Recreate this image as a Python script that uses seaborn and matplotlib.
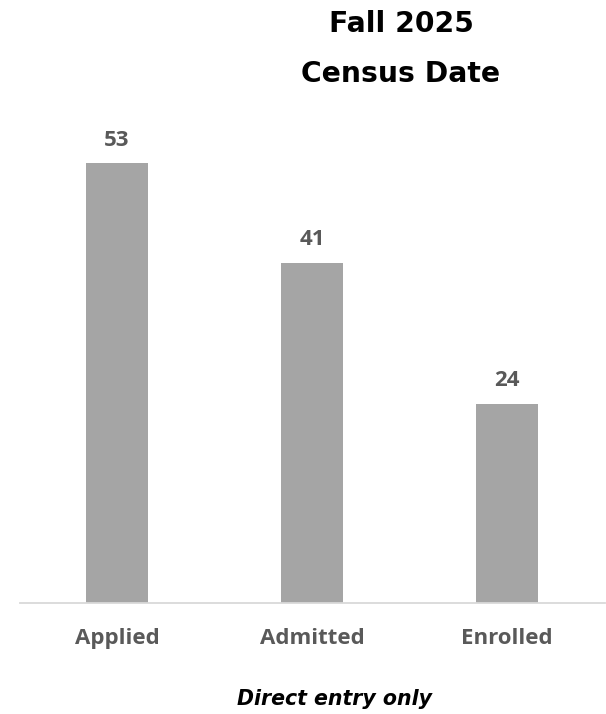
import matplotlib
matplotlib.use("Agg")
import matplotlib.pyplot as plt
import seaborn as sns
import pandas as pd

categories = ["Applied", "Admitted", "Enrolled"]
values = [53, 41, 24]
title_lines = ["Fall 2025", "Census Date"]
subtitle = "Direct entry only"

df = pd.DataFrame({"stage": categories, "count": values})

sns.set_theme(style="white")
plt.rcParams["font.family"] = ["Open Sans", "DejaVu Sans"]

fig = plt.figure(figsize=(6.06, 7.14), dpi=100)
W, H = 606, 714
ax = fig.add_axes([19.5 / W, 1 - 603 / H, 585 / W, 498 / H])

sns.barplot(data=df, x="stage", y="count", color="#A5A5A5", saturation=1,
            width=0.313, ax=ax, edgecolor="none")
ax.set_xlim(-0.5, 2.5)
ax.set_ylim(0, 60)
ax.set_xlabel("")
ax.set_ylabel("")
ax.set_yticks([])
for s in ["top", "right", "left"]:
    ax.spines[s].set_visible(False)
ax.spines["bottom"].set_color("#D9D9D9")
ax.spines["bottom"].set_linewidth(1.3)
ax.tick_params(axis="x", length=0, pad=18, labelsize=16, labelcolor="#595959")
for lab in ax.get_xticklabels():
    lab.set_fontweight("bold")

for c in ax.containers:
    ax.bar_label(c, labels=[str(v) for v in values], padding=9,
                 fontsize=16, fontweight="bold", color="#595959")

cx = 401 / W
tfam = ["DejaVu Sans"]
fig.text(cx, 1 - 32 / H, title_lines[0], ha="center", va="baseline",
         fontsize=20.3, fontweight="bold", family=tfam, color="black")
fig.text(cx, 1 - 82 / H, title_lines[1], ha="center", va="baseline",
         fontsize=20.3, fontweight="bold", family=tfam, color="black")
fig.text(334.5 / W, 1 - 705 / H, subtitle, ha="center", va="baseline",
         fontsize=14.8, fontweight="bold", style="italic",
         family=tfam, color="black")

fig.savefig("out.png", dpi=100)
